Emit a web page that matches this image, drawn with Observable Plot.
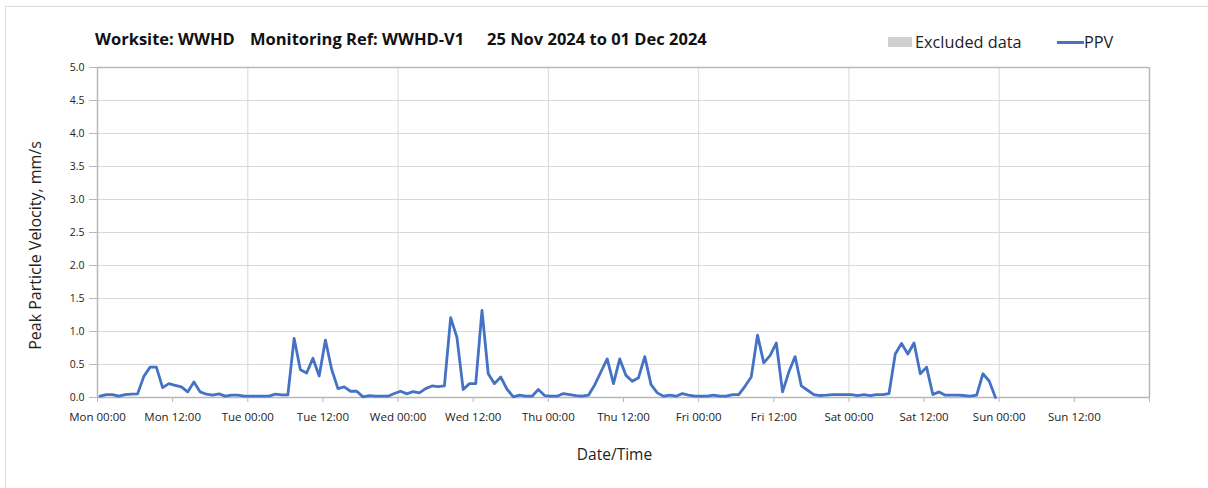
<!DOCTYPE html>
<html>
<head>
<meta charset="utf-8">
<script src="https://cdn.jsdelivr.net/npm/d3@7"></script>
<script src="https://cdn.jsdelivr.net/npm/@observablehq/plot@0.6"></script>
<style>
  html, body { margin: 0; padding: 0; background: #fff; }
  #wrap { position: relative; width: 1208px; height: 488px; overflow: hidden; font-family: "Open Sans", "Noto Sans", sans-serif; color: #1a1a1a; }
  #frame { position: absolute; left: 5px; top: 6px; width: 1300px; height: 600px; border-left: 1.5px solid #dcdcdc; border-top: 1.5px solid #dcdcdc; pointer-events: none; }
  #header { position: relative; height: 60px; }
  .t { position: absolute; top: 28px; font-weight: 700; font-size: 16.5px; line-height: 22px; white-space: nowrap; color: #111; }
  .lg { position: absolute; top: 31px; font-size: 16.3px; line-height: 22px; white-space: nowrap; color: #222; }
  .sw { position: absolute; }
  #chart svg { display: block; }
</style>
</head>
<body>
<div id="wrap">
  <div id="frame"></div>
  <div id="header"></div>
  <div id="chart"></div>
</div>
<script>
// ---- data ----
const titleParts = ["Worksite: WWHD", "Monitoring Ref: WWHD-V1", "25 Nov 2024 to 01 Dec 2024"];
const legendLabels = ["Excluded data", "PPV"];
const yTitle = "Peak Particle Velocity, mm/s";
const xTitle = "Date/Time";
const yTicks = [0, 0.5, 1, 1.5, 2, 2.5, 3, 3.5, 4, 4.5, 5];
const xTickLabels = ["Mon 00:00", "Mon 12:00", "Tue 00:00", "Tue 12:00", "Wed 00:00", "Wed 12:00",
  "Thu 00:00", "Thu 12:00", "Fri 00:00", "Fri 12:00", "Sat 00:00", "Sat 12:00", "Sun 00:00", "Sun 12:00", ""];
const sampleMinute = 24; // hourly samples, logged at hh:24

// hourly PPV (mm/s), one array per day, 00 .. 23 h
const monPPV = [0.02, 0.045, 0.045, 0.02, 0.045, 0.05, 0.055, 0.32, 0.46, 0.46, 0.15, 0.21,
  0.185, 0.16, 0.085, 0.235, 0.085, 0.05, 0.035, 0.055, 0.02, 0.035, 0.035, 0.02];
const tuePPV = [0.02, 0.02, 0.02, 0.02, 0.05, 0.04, 0.04, 0.895, 0.42, 0.37, 0.595, 0.325,
  0.87, 0.425, 0.135, 0.16, 0.095, 0.095, 0.01, 0.03, 0.02, 0.02, 0.02, 0.06];
const wedPPV = [0.095, 0.055, 0.09, 0.07, 0.135, 0.175, 0.165, 0.175, 1.21, 0.91, 0.12, 0.21,
  0.21, 1.32, 0.36, 0.21, 0.31, 0.125, 0.01, 0.035, 0.02, 0.02, 0.12, 0.03];
const thuPPV = [0.02, 0.02, 0.06, 0.045, 0.03, 0.02, 0.035, 0.19, 0.39, 0.585, 0.21, 0.585,
  0.335, 0.245, 0.3, 0.62, 0.195, 0.07, 0.02, 0.035, 0.02, 0.06, 0.035, 0.02];
const friPPV = [0.02, 0.02, 0.035, 0.02, 0.02, 0.045, 0.045, 0.17, 0.31, 0.945, 0.525, 0.635,
  0.825, 0.085, 0.385, 0.62, 0.175, 0.11, 0.045, 0.03, 0.035, 0.045, 0.045, 0.045];
const satPPV = [0.045, 0.03, 0.045, 0.03, 0.045, 0.045, 0.06, 0.66, 0.82, 0.66, 0.825, 0.36,
  0.46, 0.045, 0.085, 0.035, 0.035, 0.035, 0.03, 0.02, 0.035, 0.36, 0.25, 0.0];

const days = [monPPV, tuePPV, wedPPV, thuPPV, friPPV, satPPV];
const start = new Date(Date.UTC(2024, 10, 25));
const end = new Date(Date.UTC(2024, 11, 2));

const data = [];
days.forEach((vals, d) => vals.forEach((v, h) => {
  data.push({time: new Date(Date.UTC(2024, 10, 25 + d, h, sampleMinute)), ppv: v});
}));

const tickDates = d3.utcHour.every(12).range(start, new Date(+end + 1));
const dayLines = d3.utcDay.range(new Date(+start + 864e5), new Date(+end + 1));

// ---- header (title + legend) ----
const header = document.getElementById("header");
const titleLeft = [95, 250, 487];
titleParts.forEach((s, i) => {
  const el = document.createElement("span");
  el.className = "t"; el.textContent = s; el.style.left = titleLeft[i] + "px";
  header.appendChild(el);
});
const sw1 = document.createElement("div");
sw1.className = "sw";
Object.assign(sw1.style, {left: "888px", top: "37px", width: "24px", height: "10px", background: "#d0d0d0"});
header.appendChild(sw1);
const l1 = document.createElement("span");
l1.className = "lg"; l1.textContent = legendLabels[0]; l1.style.left = "915px";
header.appendChild(l1);
const sw2 = document.createElement("div");
sw2.className = "sw";
Object.assign(sw2.style, {left: "1057px", top: "41px", width: "27px", height: "3px", background: "#4472c4"});
header.appendChild(sw2);
const l2 = document.createElement("span");
l2.className = "lg"; l2.textContent = legendLabels[1]; l2.style.left = "1084px";
header.appendChild(l2);

// ---- chart ----
const axisColor = "#b8b8b8";
const chart = Plot.plot({
  width: 1208,
  height: 428,
  marginTop: 7,
  marginLeft: 97,
  marginRight: 59,
  marginBottom: 91,
  style: {fontFamily: "'Open Sans', 'Noto Sans', sans-serif", background: "transparent", color: "#222"},
  x: {type: "utc", domain: [start, end]},
  y: {domain: [0, 5]},
  marks: [
    Plot.gridY(yTicks.filter(v => v > 0 && v < 5), {stroke: "#d9d9d9", strokeOpacity: 1}),
    Plot.gridX(dayLines.slice(0, -1), {stroke: "#d9d9d9", strokeOpacity: 1}),
    Plot.ruleY([5], {stroke: axisColor, strokeWidth: 1.5}),
    Plot.ruleX([end], {stroke: axisColor, strokeWidth: 1.5}),
    Plot.ruleX([start], {stroke: axisColor, strokeWidth: 1.5}),
    Plot.ruleY([0], {stroke: axisColor, strokeWidth: 1.5}),
    Plot.axisY({ticks: yTicks, tickFormat: d => d.toFixed(1), tickSize: 8, tickPadding: 5,
      label: null, stroke: axisColor, fontSize: 10.5, fill: "#222"}),
    Plot.axisX({ticks: tickDates, tickFormat: d => xTickLabels[tickDates.findIndex(t => +t === +d)],
      tickSize: 5, tickPadding: 10, label: null, stroke: axisColor, fontSize: 11.5, fill: "#222"}),
    Plot.line(data, {x: "time", y: "ppv", stroke: "#4472c4", strokeWidth: 2.8, strokeLinejoin: "round"}),
    Plot.text([yTitle], {text: d => d, frameAnchor: "left", textAnchor: "middle", dx: -62, dy: 13, rotate: -90, fontSize: 16, fill: "#222"}),
    Plot.text([xTitle], {text: d => d, frameAnchor: "bottom", dx: -9, dy: 62, fontSize: 15.5, fill: "#222"})
  ]
});
document.getElementById("chart").appendChild(chart);
</script>
</body>
</html>
